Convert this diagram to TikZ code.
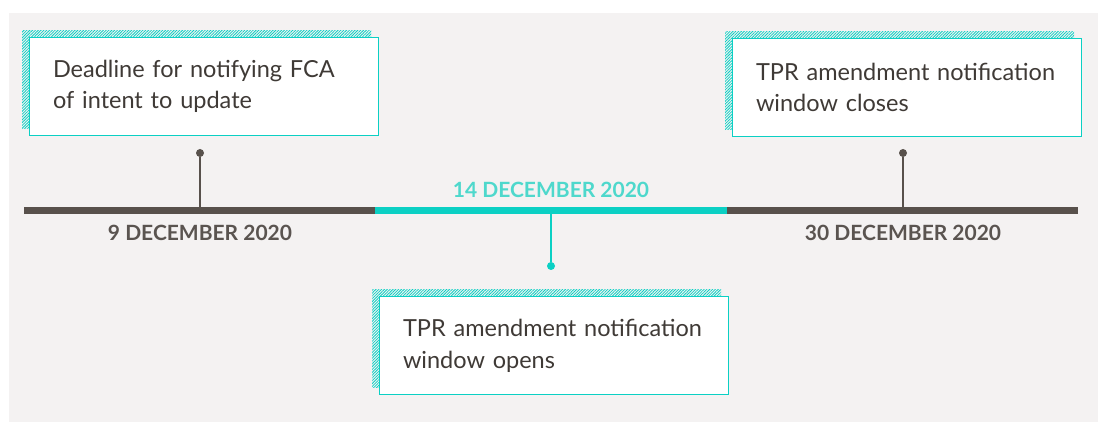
\documentclass[tikz,border=0pt]{standalone}
\usepackage{fontspec}
\setmainfont{Lato}
\usetikzlibrary{positioning}
\usetikzlibrary{shadows}
\usetikzlibrary{patterns.meta}

\definecolor{bggray}{HTML}{F4F2F2}
\definecolor{tealline}{HTML}{0BD0C4}
\definecolor{tealtext}{HTML}{4ED8CC}
\definecolor{darkline}{HTML}{58514C}
\definecolor{inktext}{HTML}{3F3A36}
\definecolor{datetext}{HTML}{5A5450}

\begin{document}
\begin{tikzpicture}[
    x=1pt, y=-1pt,
    note/.style={draw=tealline, line width=1pt, fill=white, minimum width=349pt, minimum height=98pt,
        text width=301pt, inner xsep=24pt, align=left, text=inktext, font=\fontsize{23.5}{31.5}\selectfont,
        general shadow={shadow xshift=-7pt, shadow yshift=7pt,
            pattern={Lines[angle=45, distance=2pt, line width=0.8pt]}, pattern color=tealline}},
    dot/.style={circle, inner sep=0, minimum size=8pt},
    stem/.style={line width=1.5pt},
    tline/.style={line width=7pt},
    date/.style={font=\fontsize{21}{24}\selectfont\bfseries, text=datetext}
]
\useasboundingbox (0,0) rectangle (1098,422);
\fill[bggray] (9,13) rectangle (1098,422);

% timeline points
\coordinate (t0) at (24,210.5);
\coordinate (t1) at (375,210.5);
\coordinate (t2) at (727,210.5);
\coordinate (t3) at (1078,210.5);

% ticks
\node[dot, fill=darkline] (d1) at (200,153) {};
\node[dot, fill=tealline] (d2) at (551,266) {};
\node[dot, fill=darkline] (d3) at (903,153) {};
\draw[stem, darkline] (d1) -- (d1 |- t0);
\draw[stem, tealline] (d2) -- (d2 |- t1);
\draw[stem, darkline] (d3) -- (d3 |- t0);

% timeline
\draw[tline, darkline] (t0) -- (t1);
\draw[tline, tealline] (t1) -- (t2);
\draw[tline, darkline] (t2) -- (t3);

% dates
\node[date] (l1) at (200,233) {9 DECEMBER 2020};
\node[date, text=tealtext] (l2) at (551,190) {14 DECEMBER 2020};
\node[date] (l3) at (903,233) {30 DECEMBER 2020};

% notes
\node[note, above=13pt of d1, xshift=3.5pt] (n1) {Deadline for notifying FCA\\of intent to update};
\node[note, below=26pt of d2, xshift=2.5pt] (n2) {TPR amendment notification\\window opens};
\node[note, above=12pt of d3, xshift=3.5pt] (n3) {TPR amendment notification\\window closes};

\end{tikzpicture}
\end{document}
